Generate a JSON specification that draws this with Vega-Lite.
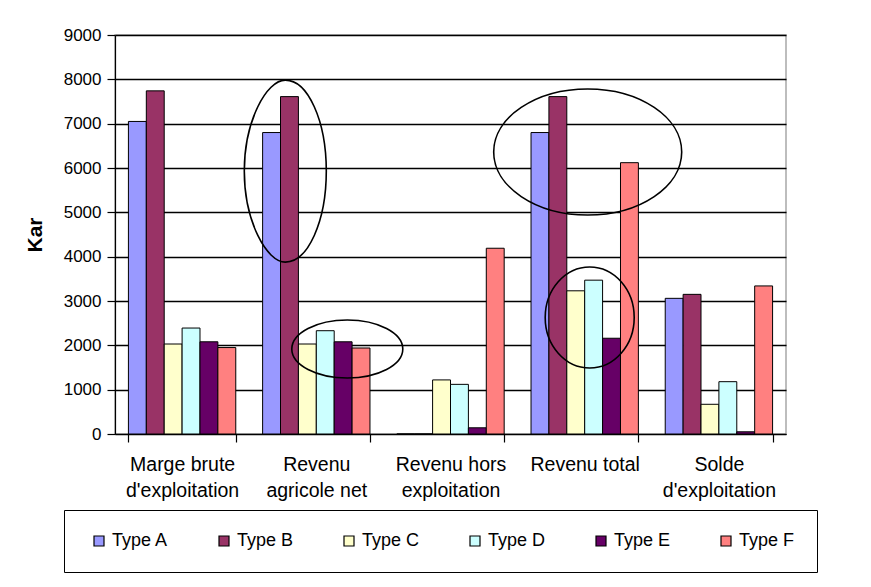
{
  "$schema": "https://vega.github.io/schema/vega-lite/v6.json",
  "width": 671,
  "height": 399,
  "autosize": {"type": "none"},
  "padding": {"left": 115, "top": 35, "right": 85, "bottom": 153},
  "background": "white",
  "config": {
    "font": "Liberation Sans",
    "view": {"stroke": "#a8a8a8", "strokeWidth": 1.5},
    "axis": {"labelFont": "Liberation Sans", "titleFont": "Liberation Sans", "domainColor": "black", "tickColor": "black", "labelColor": "black", "titleColor": "black"}
  },
  "datasets": {
    "bars": [
      {"Category": "Marge brute d'exploitation", "Type": "Type A", "Value": 7050},
      {"Category": "Marge brute d'exploitation", "Type": "Type B", "Value": 7740},
      {"Category": "Marge brute d'exploitation", "Type": "Type C", "Value": 2030},
      {"Category": "Marge brute d'exploitation", "Type": "Type D", "Value": 2390},
      {"Category": "Marge brute d'exploitation", "Type": "Type E", "Value": 2080},
      {"Category": "Marge brute d'exploitation", "Type": "Type F", "Value": 1950},
      {"Category": "Revenu agricole net", "Type": "Type A", "Value": 6800},
      {"Category": "Revenu agricole net", "Type": "Type B", "Value": 7610},
      {"Category": "Revenu agricole net", "Type": "Type C", "Value": 2030},
      {"Category": "Revenu agricole net", "Type": "Type D", "Value": 2330},
      {"Category": "Revenu agricole net", "Type": "Type E", "Value": 2080},
      {"Category": "Revenu agricole net", "Type": "Type F", "Value": 1940},
      {"Category": "Revenu hors exploitation", "Type": "Type A", "Value": 0},
      {"Category": "Revenu hors exploitation", "Type": "Type B", "Value": 0},
      {"Category": "Revenu hors exploitation", "Type": "Type C", "Value": 1220},
      {"Category": "Revenu hors exploitation", "Type": "Type D", "Value": 1120},
      {"Category": "Revenu hors exploitation", "Type": "Type E", "Value": 140},
      {"Category": "Revenu hors exploitation", "Type": "Type F", "Value": 4190},
      {"Category": "Revenu total", "Type": "Type A", "Value": 6800},
      {"Category": "Revenu total", "Type": "Type B", "Value": 7610},
      {"Category": "Revenu total", "Type": "Type C", "Value": 3230},
      {"Category": "Revenu total", "Type": "Type D", "Value": 3470},
      {"Category": "Revenu total", "Type": "Type E", "Value": 2160},
      {"Category": "Revenu total", "Type": "Type F", "Value": 6120},
      {"Category": "Solde d'exploitation", "Type": "Type A", "Value": 3060},
      {"Category": "Solde d'exploitation", "Type": "Type B", "Value": 3150},
      {"Category": "Solde d'exploitation", "Type": "Type C", "Value": 670},
      {"Category": "Solde d'exploitation", "Type": "Type D", "Value": 1180},
      {"Category": "Solde d'exploitation", "Type": "Type E", "Value": 50},
      {"Category": "Solde d'exploitation", "Type": "Type F", "Value": 3340}
    ],
    "rings": [
      {"Category": "Revenu agricole net", "Ring": "r1", "Center": 5930},
      {"Category": "Revenu agricole net", "Ring": "r2", "Center": 1917},
      {"Category": "Revenu total", "Ring": "r3", "Center": 6361},
      {"Category": "Revenu total", "Ring": "r4", "Center": 2628}
    ]
  },
  "layer": [
    {
      "data": {"name": "bars"},
      "mark": {"type": "bar", "stroke": "black", "strokeWidth": 1},
      "encoding": {
        "x": {
          "field": "Category", "type": "nominal", "sort": null,
          "scale": {"paddingInner": 0.2, "paddingOuter": 0.1},
          "axis": {
            "title": null, "labelAngle": 0, "labelFontSize": 19.5, "labelLineHeight": 26,
            "tickBand": "extent", "tickSize": 8, "labelPadding": 13, "domainWidth": 1.2, "tickWidth": 1.2,
            "labelBaseline": "top",
            "labelExpr": "datum.label == \"Marge brute d'exploitation\" ? ['Marge brute', \"d'exploitation\"] : datum.label == 'Revenu agricole net' ? ['Revenu', 'agricole net'] : datum.label == 'Revenu hors exploitation' ? ['Revenu hors', 'exploitation'] : datum.label == \"Solde d'exploitation\" ? ['Solde', \"d'exploitation\"] : datum.label"
          }
        },
        "xOffset": {"field": "Type", "type": "nominal", "scale": {"paddingInner": 0, "paddingOuter": 0}},
        "y": {
          "field": "Value", "type": "quantitative",
          "scale": {"domain": [0, 9000], "nice": false},
          "axis": {
            "title": "Kar", "titleFontSize": 21, "titleFontWeight": "bold", "titlePadding": 18,
            "values": [0, 1000, 2000, 3000, 4000, 5000, 6000, 7000, 8000, 9000], "format": "d",
            "labelFontSize": 17, "tickSize": 8, "labelPadding": 6, "tickWidth": 1.2,
            "grid": true, "gridColor": "black", "gridWidth": 1.3, "domainWidth": 1.2
          }
        },
        "color": {
          "field": "Type", "type": "nominal",
          "scale": {
            "domain": ["Type A", "Type B", "Type C", "Type D", "Type E", "Type F"],
            "range": ["#9999FF", "#993366", "#FFFFCC", "#CCFFFF", "#660066", "#FF8080"]
          },
          "legend": {
            "title": null, "orient": "none", "legendX": -51, "legendY": 475,
            "direction": "horizontal", "columns": 6, "columnPadding": 42,
            "symbolType": "square", "symbolSize": 100, "symbolStrokeColor": "black", "symbolStrokeWidth": 1.2, "symbolOffset": 4,
            "labelFontSize": 18, "labelFont": "Liberation Sans", "labelColor": "black", "labelOffset": 4,
            "strokeColor": "black", "padding": 22, "cornerRadius": 0
          }
        }
      }
    },
    {
      "data": {"name": "rings"},
      "mark": {"type": "point", "filled": false, "stroke": "black", "strokeWidth": 1.6, "size": 4, "opacity": 1},
      "encoding": {
        "x": {"field": "Category", "type": "nominal", "sort": null},
        "y": {"field": "Center", "type": "quantitative"},
        "shape": {
          "field": "Ring", "type": "nominal", "legend": null,
          "scale": {
            "domain": ["r1", "r2", "r3", "r4"],
            "range": [
              "M -72 0 C -72 50.3 -49.6 91 -31 91 C -8.4 91 10 50.3 10 0 C 10 -50.3 -8.4 -91 -31 -91 C -49.6 -91 -72 -50.3 -72 0 Z",
              "M -24.5 0 C -24.5 16 0.3 29 31 29 C 61.7 29 86.5 16 86.5 0 C 86.5 -16 61.7 -29 31 -29 C 0.3 -29 -24.5 -16 -24.5 0 Z",
              "M -91 0 C -91 34.8 -49 63 3 63 C 55 63 97 34.8 97 0 C 97 -34.8 55 -63 3 -63 C -49 -63 -91 -34.8 -91 0 Z",
              "M -39.5 0 C -39.5 27.9 -19.6 50.5 5 50.5 C 29.6 50.5 49.5 27.9 49.5 0 C 49.5 -27.9 29.6 -50.5 5 -50.5 C -19.6 -50.5 -39.5 -27.9 -39.5 0 Z"
            ]
          }
        }
      }
    }
  ]
}
